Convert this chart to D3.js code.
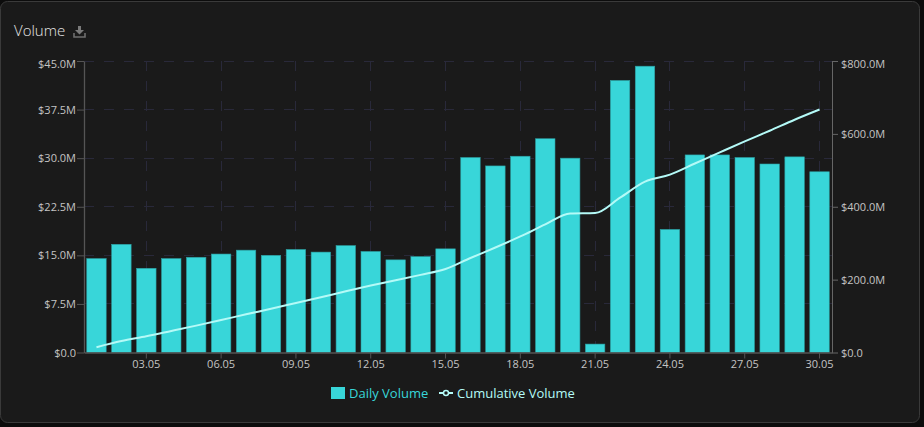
<!DOCTYPE html>
<html><head><meta charset="utf-8">
<script src="https://cdn.jsdelivr.net/npm/d3@7"></script>
<style>html,body{margin:0;padding:0;background:#0c0c0c;overflow:hidden}svg{display:block}text{font-family:"Open Sans",sans-serif}</style>
</head><body><div id="c"></div>
<script>
const days=["01.05","02.05","03.05","04.05","05.05","06.05","07.05","08.05","09.05","10.05","11.05","12.05","13.05","14.05","15.05","16.05","17.05","18.05","19.05","20.05","21.05","22.05","23.05","24.05","25.05","26.05","27.05","28.05","29.05","30.05"];
const daily=[14.5,16.7,13.0,14.5,14.7,15.2,15.8,15.0,15.9,15.5,16.5,15.6,14.3,14.8,16.0,30.1,28.8,30.3,33.0,30.0,1.3,42.0,44.2,19.0,30.5,30.5,30.1,29.1,30.2,27.9];
const cumulative=[14.6,31.4,44.4,59,73.8,89.1,104.9,119.9,135.9,151.4,168,183.7,198.1,213,229.1,259.3,288.2,318.5,351.5,381.5,382.8,424.9,469.1,488.2,518.7,549.2,579.4,608.6,638.8,666.8];
const leftTicks=[0,7.5,15,22.5,30,37.5,45];
const rightTicks=[0,200,400,600,800];
const xTicks=["03.05","06.05","09.05","12.05","15.05","18.05","21.05","24.05","27.05","30.05"];

const svg=d3.select("#c").append("svg").attr("width",924).attr("height",427);
svg.append("rect").attr("x",0.5).attr("y",1.5).attr("width",919).attr("height",421).attr("rx",7)
  .attr("fill","#1a1a1a").attr("stroke","#3a3a3a");
const L=84,R=832,T=61,B=352.5;
const x=d3.scaleBand().domain(days).range([L,R]).paddingInner(0.22).paddingOuter(0.11);
const yL=d3.scaleLinear().domain([0,45]).range([B,T]);
const yR=d3.scaleLinear().domain([0,800]).range([B,T]);
const cx=d=>x(d)+x.bandwidth()/2;
const snap=v=>Math.floor(v)+0.5;

const grid=svg.append("g").attr("stroke","#29293a").attr("stroke-dasharray","10 10").attr("fill","none");
leftTicks.slice(1).forEach(v=>grid.append("line").attr("x1",L).attr("x2",R).attr("y1",snap(yL(v))).attr("y2",snap(yL(v))));
xTicks.forEach(d=>grid.append("line").attr("x1",snap(cx(d))).attr("x2",snap(cx(d))).attr("y1",T).attr("y2",B));

svg.append("g").selectAll("rect").data(days).join("rect")
  .attr("x",d=>x(d)).attr("width",x.bandwidth())
  .attr("y",(d,i)=>yL(daily[i])).attr("height",(d,i)=>B-yL(daily[i]))
  .attr("fill","#38d6d9").attr("stroke","#2c9ea1").attr("stroke-width",0.6);

const line=d3.line().x((d,i)=>cx(days[i])).y(d=>yR(d)).curve(d3.curveMonotoneX);
svg.append("path").attr("d",line(cumulative)).attr("fill","none").attr("stroke","#b4faf7").attr("stroke-width",2);

function style(g){
  g.selectAll("path,line").attr("stroke","#555");
  g.selectAll("text").attr("fill","#c4c4c4").attr("font-size",11).style("font-family",'"Open Sans",sans-serif');
}
function nudgeTop(g,top){g.selectAll(".tick").filter(d=>d===top).select("text").attr("y",3);}
const fmtL=v=>v===0?"$0.0":"$"+v.toFixed(1)+"M";
svg.append("g").attr("transform",`translate(${L},0)`)
  .call(d3.axisLeft(yL).tickValues(leftTicks).tickFormat(fmtL).tickSize(7).tickPadding(1).tickSizeOuter(0)).call(style)
  .call(g=>g.select(".domain").attr("stroke-width",1.3)).call(nudgeTop,45);
svg.append("g").attr("transform",`translate(${R},0)`)
  .call(d3.axisRight(yR).tickValues(rightTicks).tickFormat(fmtL).tickSize(6).tickPadding(3).tickSizeOuter(0)).call(style)
  .call(g=>g.selectAll("path,line").attr("stroke","#666")).call(nudgeTop,800);
svg.append("g").attr("transform",`translate(0,${B})`)
  .call(d3.axisBottom(x).tickValues(xTicks).tickSize(6).tickPadding(1.5).tickSizeOuter(0)).call(style)
  .call(g=>g.select(".domain").attr("stroke-width",1.3));

svg.append("text").attr("x",14).attr("y",36).attr("fill","#e6e6e6").attr("font-size",15).attr("font-weight",300).text("Volume");
svg.append("path").attr("d","M74 33v4h11v-4").attr("fill","none").attr("stroke","#6f6f6f").attr("stroke-width",1.6);
svg.append("path").attr("d","M78 26h3v4h3l-4.500 4.500-4.500-4.500h3z").attr("fill","#7a7a7a");

const lg=svg.append("g");
lg.append("rect").attr("x",331).attr("y",387).attr("width",14).attr("height",12).attr("fill","#38d6d9");
lg.append("text").attr("x",349).attr("y",398).attr("fill","#38d6d9").attr("font-size",13).text("Daily Volume");
lg.append("line").attr("x1",439).attr("x2",453).attr("y1",393).attr("y2",393).attr("stroke","#b4faf7").attr("stroke-width",2);
lg.append("circle").attr("cx",446).attr("cy",393).attr("r",2.5).attr("fill","#1a1a1a").attr("stroke","#b4faf7").attr("stroke-width",1.5);
lg.append("text").attr("x",457).attr("y",398).attr("fill","#b4faf7").attr("font-size",13).text("Cumulative Volume");
</script></body></html>
